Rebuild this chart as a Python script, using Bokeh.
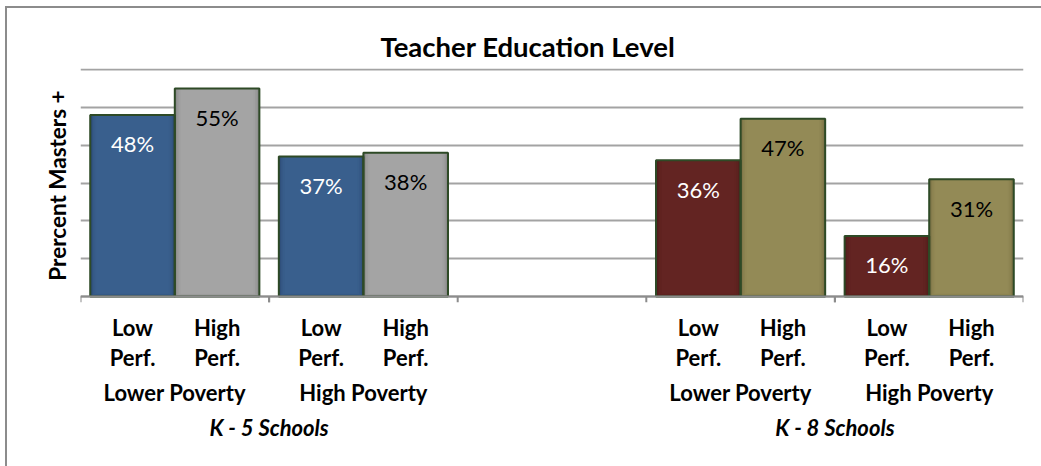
from bokeh.plotting import figure
from bokeh.models import (FactorRange, Range1d, CategoricalAxis, SingleIntervalTicker, FixedTicker,
                          Title, ColumnDataSource, Span, InlineStyleSheet)
from bokeh.core.properties import value
from bokeh.embed import file_html
from bokeh.resources import INLINE

# ---- data ----
schools = ["K - 5 Schools"] * 4 + ["K - 8 Schools"] * 4
poverty = ["Lower Poverty", "Lower Poverty", "High Poverty", "High Poverty"] * 2
performance = ["Low\nPerf.", "High\nPerf."] * 4
values = [48, 55, 37, 38, 36, 47, 16, 31]
labels = ["48%", "55%", "37%", "38%", "36%", "47%", "16%", "31%"]
colors = ["#3B6191", "#A8A8A8", "#3B6191", "#A8A8A8",
          "#662623", "#978D58", "#662623", "#978D58"]
edge_colors = ["#284670", "#7E7E7E", "#284670", "#7E7E7E",
               "#4A1A18", "#6F673F", "#4A1A18", "#6F673F"]
label_colors = ["white", "black", "white", "black", "white", "black", "white", "black"]

factors = list(zip(schools, poverty, performance))
src = ColumnDataSource(dict(x=factors, v=values, lab=labels, c=colors, e=edge_colors, lc=label_colors))

FONT = "Lato"
GRID = "#A3A3A3"
AX = "#8C8C8C"
SUBPAD = 0.23
TICK = 1.6   # tick-mark length below the baseline, in data units

x_range = FactorRange(*factors, factor_padding=0.0, subgroup_padding=SUBPAD,
                      group_padding=2 + 2 * SUBPAD,
                      range_padding=SUBPAD / 2, range_padding_units="absolute")

p = figure(width=1041, height=460, x_range=x_range, y_range=Range1d(-TICK, 60.3),
           output_backend="svg", toolbar_location=None, x_axis_location=None,
           min_border_left=80, min_border_right=18, min_border_top=68, min_border_bottom=158)
p.outline_line_color = None
p.background_fill_color = "white"
p.border_fill_color = "white"

# chart border (only its left & top edges fall inside the window)
p.stylesheets = [InlineStyleSheet(css=":host::after{content:'';position:fixed;left:5px;top:6px;"
                                      "width:3000px;height:3000px;border-left:2px solid #8C8C8C;"
                                      "border-top:2px solid #8C8C8C;pointer-events:none;}")]

# title
p.add_layout(Title(text="Teacher Education Level", align="left", offset=300,
                   text_font=FONT, text_font_style="bold", text_font_size="27.5px",
                   text_color="black", standoff=12), "above")

# y axis: only its label; grid at every 10 %
p.yaxis.ticker = FixedTicker(ticks=[])
p.yaxis.major_tick_line_color = None
p.yaxis.minor_tick_line_color = None
p.yaxis.axis_line_color = None
p.yaxis.axis_label = "Prercent Masters +"
p.yaxis.axis_label_text_font = FONT
p.yaxis.axis_label_text_font_style = "bold"
p.yaxis.axis_label_text_font_size = "22.5px"
p.yaxis.axis_label_text_color = "black"
p.yaxis.axis_label_standoff = 10
p.ygrid.ticker = SingleIntervalTicker(interval=10)
p.ygrid.grid_line_color = GRID
p.ygrid.grid_line_width = 2
p.xgrid.grid_line_color = None

# three-level category axis
cat_axis = CategoricalAxis(major_tick_line_color=None, minor_tick_line_color=None,
                           axis_line_color=None, separator_line_color=None,
                           major_label_standoff=5,
                           major_label_text_font=FONT, major_label_text_font_style="bold",
                           major_label_text_font_size="22px", major_label_text_line_height=1.14,
                           major_label_text_color="black",
                           subgroup_text_font=FONT, subgroup_text_font_style="bold",
                           subgroup_text_font_size="22px", subgroup_text_line_height=0.85,
                           subgroup_text_color="black",
                           group_text_font=FONT, group_text_font_style="bold italic",
                           group_text_font_size="22px", group_text_color="black")
p.add_layout(cat_axis, "below")

# bars with darker edges
p.vbar(x="x", top="v", width=1.0, source=src, fill_color="e", line_color=None)
for w, t in [(0.97, 0.3), (0.94, 0.7), (0.9, 1.1), (0.86, 1.6)]:
    p.vbar(x="x", top="v", bottom=t * 0.5, width=w, source=src, fill_color="c",
           fill_alpha=0.45, line_color=None)
p.vbar(x="x", top="v", width=1.0, source=src, fill_color=None,
       line_color="#2E4A26", line_width=2)

# baseline and slot-boundary ticks
p.add_layout(Span(location=0, dimension="width", line_color=AX, line_width=2))
groups = list(dict.fromkeys(zip(schools, poverty)))
bounds = []
for s, pv in groups:
    bounds.append((s, pv, performance[0], -(0.5 + SUBPAD / 2)))
    bounds.append((s, pv, performance[1], 0.5 + SUBPAD / 2))
p.segment(x0=bounds, y0=[0] * len(bounds), x1=bounds, y1=[-TICK] * len(bounds),
          line_color=AX, line_width=2)

# value labels
p.text(x="x", y="v", text="lab", source=src, text_color="lc", y_offset=29,
       text_align="center", text_baseline="middle",
       text_font=value(FONT), text_font_size="22px")

open("out.html", "w").write(file_html(p, INLINE))
